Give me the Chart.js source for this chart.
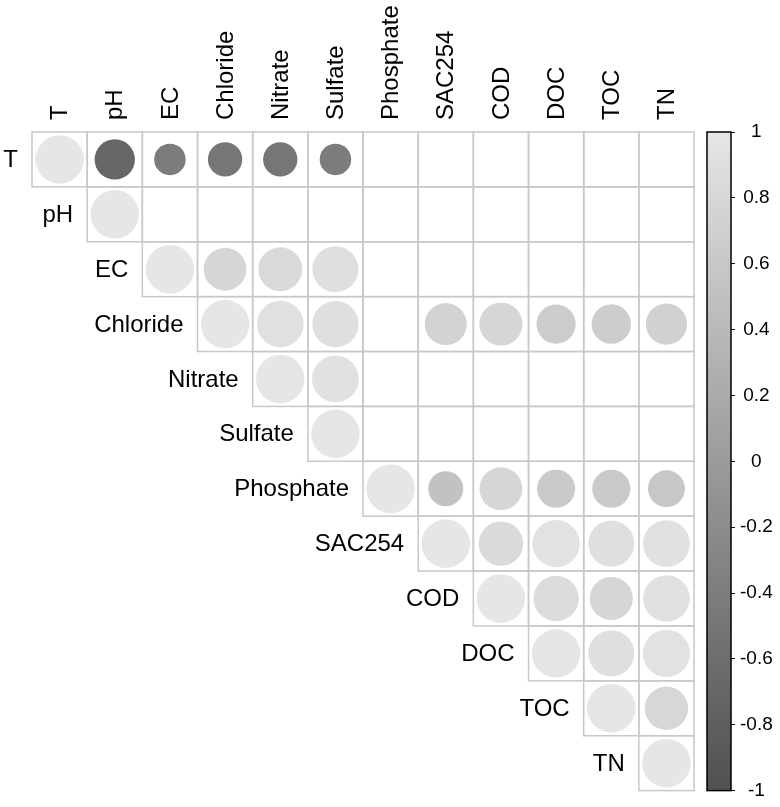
<!DOCTYPE html>
<html>
<head>
<meta charset="utf-8">
<script src="https://cdn.jsdelivr.net/npm/chart.js@4.4.1/dist/chart.umd.min.js"></script>
<style>
  html, body { margin: 0; padding: 0; background: #fff; }
  #wrap { width: 780px; height: 807px; }
</style>
</head>
<body>
<div id="wrap"><canvas id="corrChart"></canvas></div>
<script>
// variables (same order on rows and columns)
const variables = ["T", "pH", "EC", "Chloride", "Nitrate", "Sulfate", "Phosphate",
                   "SAC254", "COD", "DOC", "TOC", "TN"];

// upper triangle of the correlation matrix, null = blank cell
const rowT         = [1, -0.69, -0.42, -0.50, -0.50, -0.42, null, null, null, null, null, null];
const rowPH        = [null, 1, null, null, null, null, null, null, null, null, null, null];
const rowEC        = [null, null, 1, 0.78, 0.82, 0.90, null, null, null, null, null, null];
const rowChloride  = [null, null, null, 1, 0.92, 0.91, null, 0.75, 0.79, 0.65, 0.66, 0.72];
const rowNitrate   = [null, null, null, null, 1, 0.93, null, null, null, null, null, null];
const rowSulfate   = [null, null, null, null, null, 1, null, null, null, null, null, null];
const rowPhosphate = [null, null, null, null, null, null, 1, 0.52, 0.78, 0.62, 0.62, 0.58];
const rowSAC254    = [null, null, null, null, null, null, null, 1, 0.84, 0.95, 0.90, 0.93];
const rowCOD       = [null, null, null, null, null, null, null, null, 1, 0.87, 0.79, 0.92];
const rowDOC       = [null, null, null, null, null, null, null, null, null, 1, 0.90, 0.95];
const rowTOC       = [null, null, null, null, null, null, null, null, null, null, 1, 0.80];
const rowTN        = [null, null, null, null, null, null, null, null, null, null, null, 1];

const corrRows = [rowT, rowPH, rowEC, rowChloride, rowNitrate, rowSulfate, rowPhosphate,
                  rowSAC254, rowCOD, rowDOC, rowTOC, rowTN];

// colour bar ticks
const barTicks = [-1, -0.8, -0.6, -0.4, -0.2, 0, 0.2, 0.4, 0.6, 0.8, 1];

const FONT = '"Liberation Sans", Arial, sans-serif';
const N = variables.length;
const X_MAX = 12.67;   // leaves room for the colour bar inside the plot area

// grey ramp: -1 dark, +1 light
function greyFor(v) {
  const lo = 0x50, hi = 0xe6;
  const g = Math.round(lo + (v + 1) / 2 * (hi - lo));
  return `rgb(${g},${g},${g})`;
}

const points = [];
corrRows.forEach((row, i) => {
  row.forEach((v, j) => {
    if (v !== null) points.push({ x: j + 0.5, y: i + 0.5, v: v });
  });
});

const corrGrid = {
  id: 'corrGrid',
  beforeDatasetsDraw(chart) {
    const { ctx, scales: { x, y, cb } } = chart;
    ctx.save();

    // cell borders of the upper triangle
    ctx.strokeStyle = '#c8c8c8';
    ctx.lineWidth = 1.5;
    for (let i = 0; i < N; i++) {
      for (let j = i; j < N; j++) {
        const x0 = x.getPixelForValue(j), x1 = x.getPixelForValue(j + 1);
        const y0 = y.getPixelForValue(i), y1 = y.getPixelForValue(i + 1);
        ctx.strokeRect(x0, y0, x1 - x0, y1 - y0);
      }
    }

    ctx.fillStyle = '#000';
    ctx.font = '24px ' + FONT;

    // row labels next to the diagonal
    ctx.textAlign = 'right';
    ctx.textBaseline = 'middle';
    variables.forEach((name, i) => {
      ctx.fillText(name, x.getPixelForValue(i) - 14, y.getPixelForValue(i + 0.5) + 1);
    });

    // column labels, rotated, above the grid
    const top = y.getPixelForValue(0);
    ctx.textAlign = 'left';
    variables.forEach((name, j) => {
      ctx.save();
      ctx.translate(x.getPixelForValue(j + 0.5) + 1, top - 12);
      ctx.rotate(-Math.PI / 2);
      ctx.fillText(name, 0, 0);
      ctx.restore();
    });

    // colour bar
    const bx1 = cb.left, bx0 = bx1 - 24;
    const by0 = cb.getPixelForValue(1), by1 = cb.getPixelForValue(-1);
    const grad = ctx.createLinearGradient(0, by1, 0, by0);
    barTicks.forEach(t => grad.addColorStop((t + 1) / 2, greyFor(t)));
    ctx.fillStyle = grad;
    ctx.fillRect(bx0, by0, bx1 - bx0, by1 - by0);
    ctx.strokeStyle = '#000';
    ctx.lineWidth = 1.5;
    ctx.strokeRect(bx0, by0, bx1 - bx0, by1 - by0);

    ctx.restore();
  }
};

new Chart(document.getElementById('corrChart'), {
  type: 'scatter',
  data: {
    datasets: [{
      data: points,
      pointStyle: 'circle',
      borderWidth: 0,
      backgroundColor: ctx => ctx.raw ? greyFor(ctx.raw.v) : '#ccc',
      pointRadius: ctx => {
        if (!ctx.raw) return 0;
        const xs = ctx.chart.scales.x;
        const cell = xs.getPixelForValue(1) - xs.getPixelForValue(0);
        return 0.44 * Math.sqrt(Math.abs(ctx.raw.v)) * cell;
      }
    }]
  },
  options: {
    responsive: true,
    maintainAspectRatio: false,
    animation: false,
    events: [],
    layout: { padding: { left: 32, top: 132, right: 0, bottom: 12 } },
    plugins: { legend: { display: false }, tooltip: { enabled: false } },
    scales: {
      x: {
        type: 'linear',
        display: false,
        min: 0,
        max: X_MAX
      },
      y: {
        type: 'linear',
        display: false,
        reverse: true,
        min: 0,
        max: N
      },
      cb: {
        type: 'linear',
        position: 'right',
        min: -1,
        max: 1,
        afterBuildTicks: s => { s.ticks = barTicks.map(t => ({ value: t })); },
        afterFit: s => { s.width = 49; },
        grid: { drawOnChartArea: false, drawTicks: true, tickLength: 4, color: '#000', lineWidth: 1 },
        border: { display: false },
        ticks: {
          padding: 5,
          crossAlign: 'center',
          color: '#000',
          font: { family: FONT, size: 19 },
          callback: v => String(Math.round(v * 10) / 10)
        }
      }
    }
  },
  plugins: [corrGrid]
});
</script>
</body>
</html>
